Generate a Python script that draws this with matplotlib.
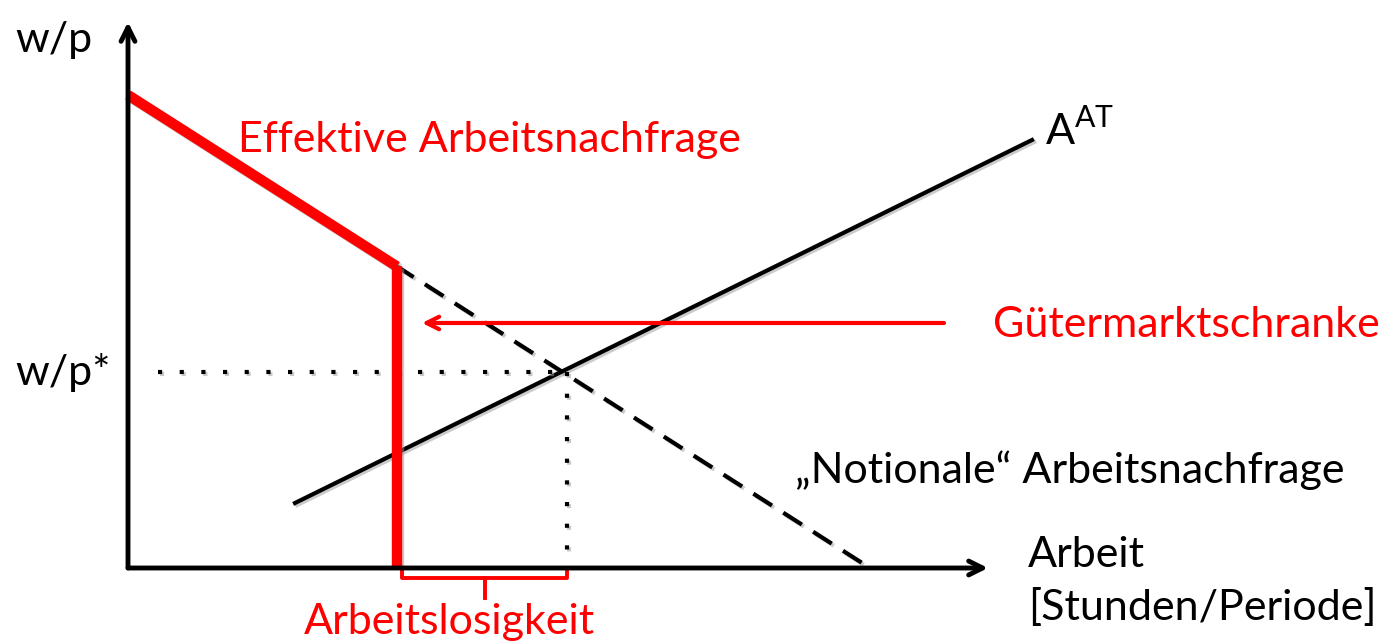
import matplotlib
matplotlib.use("Agg")
import matplotlib.pyplot as plt
import matplotlib.patheffects as pe
import numpy as np

# ---- data (diagram units: x = labour, y = real wage; origin at axes corner) ----
axis_x_end = 860          # length of labour axis
axis_y_end = 546          # length of wage axis
demand_x = [0, 742]       # notional labour demand (straight line)
demand_y = [473, 0]
supply_x = [167, 904]     # labour supply A^AT
supply_y = [65, 428]
constraint_x = 272        # goods-market constraint (employment limit)
eq_x = 439                # equilibrium employment
eq_y = 196                # equilibrium real wage w/p*
arrow_y = 245             # height of Gütermarktschranke arrow
arrow_start = 816
arrow_end = 294

def demand_at(x):
    return np.interp(x, demand_x, demand_y)

fig = plt.figure(figsize=(13.95, 6.44), dpi=100)
ax = fig.add_axes([0, 0, 1, 1])
ax.set_xlim(-128, 1395 - 128)
ax.set_ylim(568 - 644, 568)
ax.axis("off")

font = "Lato"
red = "#ff0000"
shadow = [pe.SimpleLineShadow(offset=(1.5, -1.5), shadow_color="0.6", alpha=0.5), pe.Normal()]

# axes with arrows
ax.annotate("", xy=(0, axis_y_end), xytext=(0, 0),
            arrowprops=dict(arrowstyle="->,head_length=1.0,head_width=0.5", lw=3.5, color="black",
                            shrinkA=0, shrinkB=0))
ax.annotate("", xy=(axis_x_end, 0), xytext=(0, 0),
            arrowprops=dict(arrowstyle="->,head_length=1.0,head_width=0.5", lw=3.5, color="black",
                            shrinkA=0, shrinkB=0))

# notional demand (dashed part beyond constraint)
xs = [constraint_x - 5, demand_x[1]]
ax.plot(xs, demand_at(np.array(xs)), color="black", lw=3, ls=(0, (5.3, 3.2)),
        path_effects=shadow, solid_capstyle="butt")

# supply
ax.plot(supply_x, supply_y, color="black", lw=3, path_effects=shadow)

# dotted equilibrium guides
ax.plot([30, eq_x], [eq_y, eq_y], color="black", lw=3, ls=(0, (1, 4.2)), path_effects=shadow)
ax.plot([eq_x, eq_x], [eq_y, 0], color="black", lw=3, ls=(0, (1, 4.2)), path_effects=shadow)

# effective demand (thick red kinked)
ex = [0, constraint_x - 3, constraint_x - 3]
ey = [demand_at(0), demand_at(constraint_x - 3), 0]
ax.plot(ex[:2], ey[:2], color=red, lw=7.5, solid_capstyle="butt", path_effects=shadow)
ax.plot(ex[1:], ey[1:], color=red, lw=7.5, solid_capstyle="butt", path_effects=shadow)

# Gütermarktschranke arrow
ax.annotate("", xy=(arrow_end, arrow_y), xytext=(arrow_start, arrow_y),
            arrowprops=dict(arrowstyle="->,head_length=0.9,head_width=0.45", lw=3, color=red,
                            shrinkA=0, shrinkB=0))

# brace for unemployment
bx0, bx1 = constraint_x + 2, eq_x
bm = (bx0 + bx1) / 2
ax.plot([bx0, bx0, bx1, bx1], [0, -10, -10, 0], color=red, lw=2.8, solid_joinstyle="round")
ax.plot([bm, bm], [-10, -30], color=red, lw=2.8)

# texts
fs = 31
ax.text(-113, 528, "w/p", fontsize=fs, family=font, va="center", ha="left")
ax.text(-113, eq_y, "w/p*", fontsize=fs, family=font, va="center", ha="left")
ax.text(110, 428, "Effektive Arbeitsnachfrage", fontsize=fs, family=font, color=red,
        va="center", ha="left")
ax.text(865, 243, "Gütermarktschranke", fontsize=fs, family=font, color=red,
        va="center", ha="left")
ax.text(917, 438, r"A$^{\mathregular{AT}}$", fontsize=fs, family=font, va="center", ha="left")
ax.text(667, 98, "„Notionale“ Arbeitsnachfrage", fontsize=fs, family=font,
        va="center", ha="left")
ax.text(900, 13, "Arbeit", fontsize=fs, family=font, va="center", ha="left")
ax.text(900, -39, "[Stunden/Periode]", fontsize=fs, family=font, va="center", ha="left")
ax.text(321, -54, "Arbeitslosigkeit", fontsize=fs, family=font, color=red,
        va="center", ha="center")

fig.savefig("out.png", dpi=100)
